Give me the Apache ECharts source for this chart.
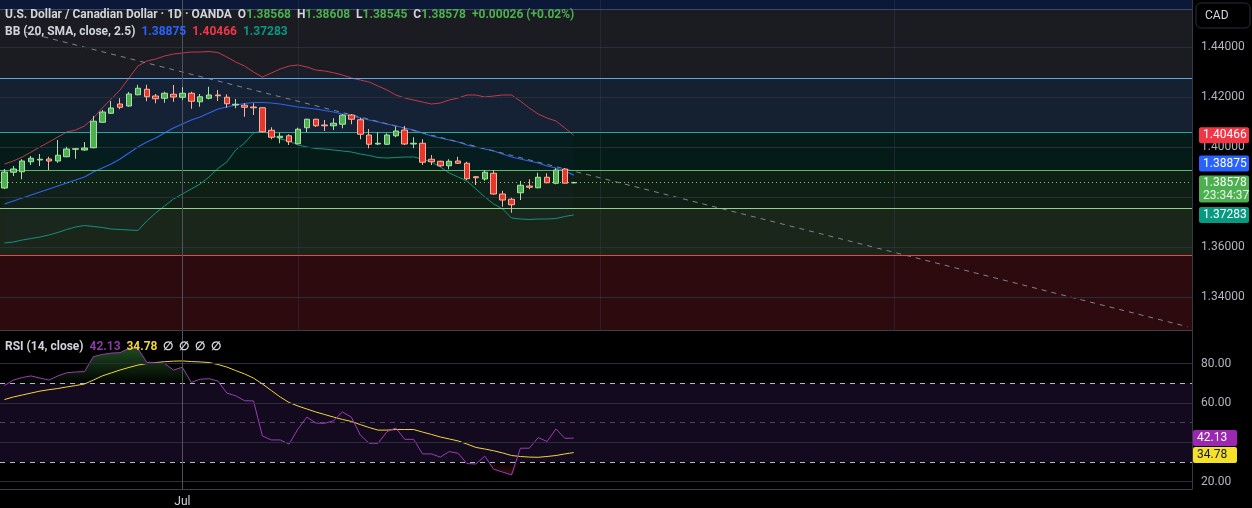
<!DOCTYPE html>
<html>
<head>
<meta charset="utf-8">
<script src="https://cdn.jsdelivr.net/npm/echarts@6/dist/echarts.min.js"></script>
<style>
  html, body { margin: 0; padding: 0; background: #000; }
  #chart { width: 1252px; height: 508px; }
</style>
</head>
<body>
<div id="chart"></div>
<script>
// daily candles, USD/CAD (open, close, low, high)
const opens = [1.3836, 1.3899, 1.3901, 1.3941, 1.3948, 1.3952, 1.3944, 1.3961, 1.3991, 1.3988,
  1.3997, 1.4099, 1.4135, 1.4172, 1.4164, 1.4209, 1.4231, 1.4204, 1.4195, 1.4211,
  1.4199, 1.4215, 1.4181, 1.4195, 1.4208, 1.4199, 1.4168, 1.4167, 1.4160, 1.4157,
  1.4067, 1.4037, 1.4045, 1.4013, 1.4077, 1.4111, 1.4088, 1.4085, 1.4091, 1.4128,
  1.4109, 1.4048, 1.4012, 1.4011, 1.4045, 1.4068, 1.4012, 1.4015, 1.3951, 1.3943,
  1.3925, 1.3944, 1.3935, 1.3881, 1.3872, 1.3895, 1.3812, 1.3791, 1.3817, 1.3844,
  1.3837, 1.3879, 1.3855, 1.3912, 1.38568];
const closes = [1.3900, 1.3912, 1.3944, 1.3955, 1.3951, 1.3944, 1.3967, 1.3992, 1.3993, 1.3996,
  1.4103, 1.4140, 1.4156, 1.4159, 1.4212, 1.4235, 1.4201, 1.4193, 1.4215, 1.4200,
  1.4215, 1.4183, 1.4201, 1.4208, 1.4205, 1.4173, 1.4171, 1.4159, 1.4157, 1.4061,
  1.4039, 1.4043, 1.4021, 1.4071, 1.4111, 1.4085, 1.4085, 1.4095, 1.4127, 1.4111,
  1.4051, 1.4011, 1.4015, 1.4048, 1.4064, 1.4012, 1.4015, 1.3939, 1.3941, 1.3925,
  1.3943, 1.3935, 1.3873, 1.3877, 1.3899, 1.3812, 1.3788, 1.3769, 1.3847, 1.3839,
  1.3879, 1.3857, 1.3908, 1.38552, 1.38578];
const lows = [1.3832, 1.3884, 1.3871, 1.3928, 1.3924, 1.3908, 1.3937, 1.3959, 1.3953, 1.3985,
  1.3995, 1.4097, 1.4132, 1.4151, 1.4161, 1.4207, 1.4183, 1.4175, 1.4177, 1.4181,
  1.4188, 1.4153, 1.4161, 1.4191, 1.4184, 1.4157, 1.4155, 1.4121, 1.4128, 1.4059,
  1.4031, 1.4015, 1.4008, 1.4011, 1.4059, 1.4080, 1.4064, 1.4068, 1.4075, 1.4091,
  1.4031, 1.3995, 1.4008, 1.4008, 1.4039, 1.4008, 1.3995, 1.3928, 1.3928, 1.3921,
  1.3911, 1.3932, 1.3868, 1.3848, 1.3865, 1.3809, 1.3761, 1.3737, 1.3788, 1.3831,
  1.3835, 1.3855, 1.3851, 1.3855, 1.38545];
const highs = [1.3912, 1.3924, 1.3951, 1.3964, 1.3972, 1.3961, 1.4028, 1.4001, 1.3995, 1.4020,
  1.4124, 1.4148, 1.4184, 1.4195, 1.4220, 1.4249, 1.4249, 1.4212, 1.4221, 1.4248,
  1.4239, 1.4221, 1.4212, 1.4241, 1.4228, 1.4211, 1.4192, 1.4175, 1.4175, 1.4160,
  1.4079, 1.4057, 1.4051, 1.4077, 1.4113, 1.4113, 1.4108, 1.4115, 1.4132, 1.4132,
  1.4117, 1.4072, 1.4059, 1.4055, 1.4081, 1.4084, 1.4039, 1.4031, 1.3968, 1.3945,
  1.3951, 1.3961, 1.3941, 1.3884, 1.3908, 1.3908, 1.3825, 1.3797, 1.3864, 1.3871,
  1.3897, 1.3895, 1.3915, 1.3916, 1.38608];

// Bollinger Bands (20, SMA, 2.5)
const bbUpper = [1.3932, 1.3944, 1.3960, 1.3980, 1.4000, 1.4020, 1.4040, 1.4060, 1.4068, 1.4084,
  1.4116, 1.4156, 1.4192, 1.4228, 1.4276, 1.4324, 1.4344, 1.4352, 1.4364, 1.4372,
  1.4376, 1.4380, 1.4380, 1.4382, 1.4378, 1.4360, 1.4340, 1.4324, 1.4300, 1.4280,
  1.4296, 1.4312, 1.4324, 1.4328, 1.4320, 1.4308, 1.4304, 1.4297, 1.4288, 1.4276,
  1.4268, 1.4260, 1.4244, 1.4228, 1.4208, 1.4196, 1.4188, 1.4180, 1.4172, 1.4176,
  1.4188, 1.4196, 1.4208, 1.4208, 1.4200, 1.4204, 1.4208, 1.4208, 1.4184, 1.4156,
  1.4132, 1.4116, 1.4104, 1.4076, 1.40466];
const bbBasis = [1.3772, 1.3784, 1.3796, 1.3808, 1.3820, 1.3832, 1.3844, 1.3856, 1.3868, 1.3880,
  1.3900, 1.3916, 1.3932, 1.3952, 1.3976, 1.4000, 1.4020, 1.4036, 1.4056, 1.4076,
  1.4092, 1.4108, 1.4120, 1.4136, 1.4152, 1.4160, 1.4168, 1.4174, 1.4178, 1.4178,
  1.4176, 1.4172, 1.4166, 1.4160, 1.4156, 1.4152, 1.4146, 1.4140, 1.4132, 1.4124,
  1.4116, 1.4108, 1.4100, 1.4092, 1.4084, 1.4076, 1.4068, 1.4056, 1.4044, 1.4036,
  1.4028, 1.4020, 1.4008, 1.4000, 1.3992, 1.3984, 1.3972, 1.3960, 1.3952, 1.3944,
  1.3936, 1.3924, 1.3916, 1.3904, 1.38875];
const bbLower = [1.3616, 1.3620, 1.3628, 1.3634, 1.3640, 1.3648, 1.3658, 1.3670, 1.3680, 1.3686,
  1.3682, 1.3678, 1.3672, 1.3670, 1.3668, 1.3666, 1.3704, 1.3736, 1.3764, 1.3792,
  1.3812, 1.3832, 1.3852, 1.3880, 1.3914, 1.3940, 1.3988, 1.4016, 1.4056, 1.4064,
  1.4050, 1.4032, 1.4024, 1.4008, 1.4000, 1.3994, 1.3992, 1.3988, 1.3984, 1.3980,
  1.3972, 1.3966, 1.3958, 1.3956, 1.3958, 1.3960, 1.3960, 1.3952, 1.3940, 1.3920,
  1.3896, 1.3880, 1.3864, 1.3832, 1.3800, 1.3772, 1.3752, 1.3716, 1.3712, 1.3710,
  1.3712, 1.3712, 1.3714, 1.3722, 1.37283];

// RSI (14, close) and its moving average
const rsi = [68.8, 71.6, 72.9, 73.7, 72.6, 71.6, 73.7, 75.3, 75.7, 75.9,
  83.5, 84.6, 85.3, 85.5, 87.7, 87.7, 80.6, 80.3, 80.0, 76.7,
  78.1, 70.4, 72.0, 72.3, 71.1, 65.0, 63.6, 61.1, 61.0, 43.2,
  41.2, 41.2, 39.1, 46.8, 52.8, 49.8, 49.6, 51.0, 55.4, 52.8,
  43.7, 39.5, 39.5, 45.4, 47.3, 41.5, 41.5, 34.1, 34.1, 32.5,
  35.3, 34.4, 29.2, 29.0, 33.0, 26.3, 24.9, 23.4, 37.0, 37.0,
  42.4, 40.4, 46.8, 42.0, 42.13];
const rsiMa = [61.7, 63.0, 64.0, 65.0, 66.0, 66.7, 67.3, 68.1, 68.8, 69.6,
  71.6, 73.7, 75.2, 76.7, 78.0, 79.2, 80.0, 80.5, 80.9, 81.2,
  81.3, 81.0, 80.8, 80.5, 79.5, 78.2, 76.4, 74.7, 72.6, 69.6,
  66.3, 63.0, 60.2, 58.4, 56.9, 55.4, 54.1, 52.8, 51.6, 50.6,
  49.0, 47.5, 46.2, 46.2, 46.5, 46.5, 46.5, 45.2, 44.0, 42.7,
  41.7, 40.7, 39.1, 37.4, 36.6, 35.7, 34.6, 33.3, 32.8, 32.5,
  32.4, 32.8, 33.3, 34.1, 34.78];

// horizontal zones drawn on the price pane
const zoneEdges = [1.4552, 1.4276, 1.4058, 1.3906, 1.3755, 1.3568];
const zoneLineColors = ['#3d4a6b', '#5aa9e6', '#26a69a', '#5cb862', '#8fd18f', '#e0464b'];
const zoneFills = ['#0b1838', '#1a1c22', '#152030', '#051b18', '#0f1f13', '#1a2619', '#2c0a0e'];

// dashed trend line: [slot index, price]
const trendFrom = [0, 1.44804];
const trendTo = [133, 1.32812];

const priceTicks = [1.34, 1.36, 1.38, 1.40, 1.42, 1.44];
const rsiTicks = [20, 40, 60, 80];
const rsiLevels = [70, 50, 30];
const xTickIndex = [20];
const xTickText = ['Jul'];
const vGridIndex = [33, 67, 100];
const crossIndex = 20;
const countdown = '23:34:37';

const nSlots = 134;
const priceMin = 1.3268, priceMax = 1.4588;
const rsiMin = 16.3, rsiMax = 96.5;

const FONT = 'Roboto, "Liberation Sans", sans-serif';
const cats = Array.from({ length: nSlots }, (_, i) => 'd' + i);
const last = opens.length - 1;

const candleData = opens.map((o, i) => [o, closes[i], lows[i], highs[i]]);
const bbSpread = bbUpper.map((u, i) => +(u - bbLower[i]).toFixed(5));
const obFill = rsi.map(v => Math.max(v - 70, 0));
const obBase = rsi.map(() => 70);
const osBase = rsi.map(v => Math.min(v, 30));
const osFill = rsi.map(v => 30 - Math.min(v, 30));
const trendData = cats.map((c, i) => i === trendFrom[0] ? trendFrom[1] : (i === trendTo[0] ? trendTo[1] : null));

const change = closes[last] - closes[last - 1];
const changePct = change / closes[last - 1] * 100;
const sign = change >= 0 ? '+' : '';

// zone fills and lines
const zoneAreas = zoneFills.map((col, k) => {
  const top = k === 0 ? priceMax : zoneEdges[k - 1];
  const bot = k === zoneEdges.length ? priceMin : zoneEdges[k];
  return [{ yAxis: top, itemStyle: { color: col } }, { yAxis: bot }];
});
const priceLines = []
  .concat(priceTicks.map(v => ({ yAxis: v, lineStyle: { color: '#2a2e39', width: 1, type: 'solid' } })))
  .concat(vGridIndex.map(i => ({ xAxis: cats[i], lineStyle: { color: 'rgba(60,66,82,0.35)', width: 1, type: 'solid' } })))
  .concat(zoneEdges.map((v, k) => ({ yAxis: v, lineStyle: { color: zoneLineColors[k], width: 1, type: 'solid' } })))
  .concat([
    { xAxis: cats[crossIndex], lineStyle: { color: '#50535e', width: 1, type: 'solid' } },
    { yAxis: closes[last], lineStyle: { color: '#6fcf73', width: 1, type: [1, 3] } }
  ]);

const rsiLines = []
  .concat(rsiTicks.map(v => ({ yAxis: v, lineStyle: { color: '#2a2e39', width: 1, type: 'solid' } })))
  .concat(rsiLevels.map(v => ({ yAxis: v, lineStyle: { color: v === 50 ? 'rgba(120,123,134,0.55)' : '#b8bbc4', width: 1, type: [5, 5] } })))
  .concat([{ xAxis: cats[crossIndex], lineStyle: { color: '#50535e', width: 1, type: 'solid' } }]);

const chart = echarts.init(document.getElementById('chart'));

const rich = (c, extra) => Object.assign({ color: c, fontFamily: FONT, fontSize: 12, lineHeight: 17 }, extra || {});

const option = {
  backgroundColor: '#000',
  animation: false,
  title: [
    {
      left: 5, top: 6, padding: 0,
      text: '{n|U.S. Dollar / Canadian Dollar · 1D · OANDA}  {n|O}{g|' + opens[last].toFixed(5) + '}  {n|H}{g|' + highs[last].toFixed(5) +
        '}  {n|L}{g|' + lows[last].toFixed(5) + '}  {n|C}{g|' + closes[last].toFixed(5) + '}  {g|' + sign + change.toFixed(5) +
        ' (' + sign + changePct.toFixed(2) + '%)}\n{n|BB (20, SMA, close, 2.5)}  {b|' + bbBasis[last].toFixed(5) + '}  {r|' +
        bbUpper[last].toFixed(5) + '}  {t|' + bbLower[last].toFixed(5) + '}',
      textStyle: {
        fontFamily: FONT, fontSize: 12, lineHeight: 17,
        rich: { n: rich('#d1d4dc'), g: rich('#4caf50'), b: rich('#2962ff'), r: rich('#f23645'), t: rich('#089981') }
      }
    },
    {
      left: 5, top: 338, padding: 0,
      text: '{n|RSI (14, close)}  {p|' + rsi[last].toFixed(2) + '}  {y|' + rsiMa[last].toFixed(2) + '}  {n|∅  ∅  ∅  ∅}',
      textStyle: {
        fontFamily: FONT, fontSize: 12, lineHeight: 17,
        rich: { n: rich('#d1d4dc'), p: rich('#8e3aa8'), y: rich('#f2d535', { fontWeight: 'bold' }) }
      }
    }
  ],
  grid: [
    { left: -2, right: 60, top: 0, height: 330 },
    { left: -2, right: 60, top: 331, height: 158 }
  ],
  xAxis: [
    {
      type: 'category', data: cats, gridIndex: 0, boundaryGap: true,
      axisLine: { show: true, lineStyle: { color: '#3b3f4b' } },
      axisTick: { show: false }, axisLabel: { show: false }, splitLine: { show: false }
    },
    {
      type: 'category', data: cats, gridIndex: 1, boundaryGap: true,
      axisLine: { show: true, lineStyle: { color: '#3b3f4b' } },
      axisTick: { show: false }, splitLine: { show: false },
      axisLabel: {
        interval: 0, color: '#d1d4dc', fontFamily: FONT, fontSize: 12, margin: 7,
        formatter: (v, i) => { const k = xTickIndex.indexOf(i); return k >= 0 ? xTickText[k] : ''; }
      }
    }
  ],
  yAxis: [
    {
      type: 'value', gridIndex: 0, position: 'right', min: priceMin, max: priceMax, splitNumber: 6,
      axisLine: { show: true, lineStyle: { color: '#363a45' } },
      axisTick: { show: false }, splitLine: { show: false },
      axisLabel: {
        color: '#b2b5be', fontFamily: FONT, fontSize: 12, margin: 9,
        showMinLabel: false, showMaxLabel: false, formatter: v => v.toFixed(5)
      }
    },
    {
      type: 'value', gridIndex: 1, position: 'right', min: rsiMin, max: rsiMax, splitNumber: 4,
      axisLine: { show: true, lineStyle: { color: '#363a45' } },
      axisTick: { show: false }, splitLine: { show: false },
      axisLabel: {
        color: '#b2b5be', fontFamily: FONT, fontSize: 12, margin: 9,
        showMinLabel: false, showMaxLabel: false, formatter: v => v.toFixed(2)
      }
    }
  ],
  series: [
    {
      name: 'zones', type: 'line', xAxisIndex: 0, yAxisIndex: 0, z: 0, silent: true,
      data: closes, symbol: 'none', lineStyle: { opacity: 0 },
      markArea: { silent: true, data: zoneAreas }
    },
    {
      name: 'lines', type: 'line', xAxisIndex: 0, yAxisIndex: 0, z: 1, silent: true,
      data: closes, symbol: 'none', lineStyle: { opacity: 0 },
      markLine: { silent: true, precision: 5, symbol: ['none', 'none'], label: { show: false }, data: priceLines }
    },
    {
      name: 'bbBase', type: 'line', stack: 'bb', xAxisIndex: 0, yAxisIndex: 0, z: 2, silent: true,
      data: bbLower, symbol: 'none', lineStyle: { opacity: 0 }
    },
    {
      name: 'bbFill', type: 'line', stack: 'bb', xAxisIndex: 0, yAxisIndex: 0, z: 2, silent: true,
      data: bbSpread, symbol: 'none', lineStyle: { opacity: 0 },
      areaStyle: { color: 'rgba(41,98,255,0.04)' }
    },
    {
      name: 'Upper', type: 'line', xAxisIndex: 0, yAxisIndex: 0, z: 3, data: bbUpper,
      symbol: 'none', lineStyle: { color: '#c23b4b', width: 1 }
    },
    {
      name: 'Basis', type: 'line', xAxisIndex: 0, yAxisIndex: 0, z: 3, data: bbBasis,
      symbol: 'none', lineStyle: { color: '#2f63e8', width: 1.2 }
    },
    {
      name: 'Lower', type: 'line', xAxisIndex: 0, yAxisIndex: 0, z: 3, data: bbLower,
      symbol: 'none', lineStyle: { color: '#16917c', width: 1 }
    },
    {
      name: 'Trend', type: 'line', xAxisIndex: 0, yAxisIndex: 0, z: 3, data: trendData, connectNulls: true,
      symbol: 'none', lineStyle: { color: '#80838e', width: 1, type: [5, 5] }
    },
    {
      name: 'USDCAD', type: 'candlestick', xAxisIndex: 0, yAxisIndex: 0, z: 5,
      data: candleData, barWidth: 6,
      itemStyle: {
        color: '#4caf50', color0: '#e8352e',
        borderColor: '#a8e2a6', borderColor0: '#f6b59c', borderWidth: 1
      }
    },
    {
      name: 'rsiBg', type: 'line', xAxisIndex: 1, yAxisIndex: 1, z: 0, silent: true,
      data: rsi, symbol: 'none', lineStyle: { opacity: 0 },
      markArea: {
        silent: true,
        data: [[{ yAxis: rsiLevels[0], itemStyle: { color: '#130a1f' } }, { yAxis: rsiLevels[2] }]]
      },
      markLine: { silent: true, precision: 2, symbol: ['none', 'none'], label: { show: false }, data: rsiLines }
    },
    {
      name: 'obBase', type: 'line', stack: 'ob', xAxisIndex: 1, yAxisIndex: 1, z: 2, silent: true,
      data: obBase, symbol: 'none', lineStyle: { opacity: 0 }
    },
    {
      name: 'obFill', type: 'line', stack: 'ob', xAxisIndex: 1, yAxisIndex: 1, z: 2, silent: true,
      data: obFill, symbol: 'none', lineStyle: { opacity: 0 },
      areaStyle: {
        color: new echarts.graphic.LinearGradient(0, 0, 0, 1, [
          { offset: 0, color: 'rgba(56,142,60,0.75)' },
          { offset: 1, color: 'rgba(56,142,60,0.03)' }
        ])
      }
    },
    {
      name: 'osBase', type: 'line', stack: 'os', xAxisIndex: 1, yAxisIndex: 1, z: 2, silent: true,
      data: osBase, symbol: 'none', lineStyle: { opacity: 0 }
    },
    {
      name: 'osFill', type: 'line', stack: 'os', xAxisIndex: 1, yAxisIndex: 1, z: 2, silent: true,
      data: osFill, symbol: 'none', lineStyle: { opacity: 0 },
      areaStyle: {
        color: new echarts.graphic.LinearGradient(0, 0, 0, 1, [
          { offset: 0, color: 'rgba(242,54,69,0.02)' },
          { offset: 1, color: 'rgba(242,54,69,0.35)' }
        ])
      }
    },
    {
      name: 'RSI-based MA', type: 'line', xAxisIndex: 1, yAxisIndex: 1, z: 3, data: rsiMa,
      symbol: 'none', lineStyle: { color: '#f2d535', width: 1 }
    },
    {
      name: 'RSI', type: 'line', xAxisIndex: 1, yAxisIndex: 1, z: 4, data: rsi,
      symbol: 'none', lineStyle: { color: '#9a3db4', width: 1 }
    }
  ]
};

chart.setOption(option);

// value tags on the right scale, placed through the axes
function tag(x, w, cy, text, bg, fg, h) {
  h = h || 16;
  return [
    { type: 'rect', z: 100, shape: { x: x, y: cy - h / 2, width: w, height: h, r: 2 }, style: { fill: bg } },
    {
      type: 'text', z: 101, style: {
        text: text, x: x + 4, y: cy, fill: fg, fontFamily: FONT, fontSize: 12, verticalAlign: 'middle'
      }
    }
  ];
}

const yU = chart.convertToPixel({ yAxisIndex: 0 }, bbUpper[last]);
const yB = chart.convertToPixel({ yAxisIndex: 0 }, bbBasis[last]);
const yC = chart.convertToPixel({ yAxisIndex: 0 }, closes[last]);
const yL = chart.convertToPixel({ yAxisIndex: 0 }, bbLower[last]);
const yR = chart.convertToPixel({ yAxisIndex: 1 }, rsi[last]);
const yM = chart.convertToPixel({ yAxisIndex: 1 }, rsiMa[last]);

const greenTop = yC - 7;
const greenH = 27;
const tags = [].concat(
  tag(1199, 50, yU, bbUpper[last].toFixed(5), '#f23645', '#fff'),
  tag(1199, 50, Math.min(yB, greenTop - 4 - 8), bbBasis[last].toFixed(5), '#2962ff', '#fff'),
  [
    { type: 'rect', z: 100, shape: { x: 1199, y: greenTop, width: 50, height: greenH, r: 2 }, style: { fill: '#4caf50' } },
    { type: 'text', z: 101, style: { text: closes[last].toFixed(5), x: 1203, y: yC, fill: '#fff', fontFamily: FONT, fontSize: 12, verticalAlign: 'middle' } },
    { type: 'text', z: 101, style: { text: countdown, x: 1203, y: yC + 13, fill: '#e8f5e9', fontFamily: FONT, fontSize: 12, verticalAlign: 'middle' } }
  ],
  tag(1199, 50, Math.max(yL, greenTop + greenH + 3 + 8), bbLower[last].toFixed(5), '#089981', '#fff'),
  tag(1193, 44, yR, rsi[last].toFixed(2), '#9c27b0', '#fff'),
  tag(1193, 44, Math.max(yM, yR + 17), rsiMa[last].toFixed(2), '#f5e12a', '#131722'),
  [
    { type: 'rect', z: 100, shape: { x: 1196, y: 3, width: 54, height: 25, r: 5 }, style: { fill: '#000', stroke: '#2a2e39', lineWidth: 1 } },
    { type: 'text', z: 101, style: { text: 'CAD', x: 1205, y: 16, fill: '#d1d4dc', fontFamily: FONT, fontSize: 12, verticalAlign: 'middle' } }
  ]
);

chart.setOption({ graphic: tags });
</script>
</body>
</html>
